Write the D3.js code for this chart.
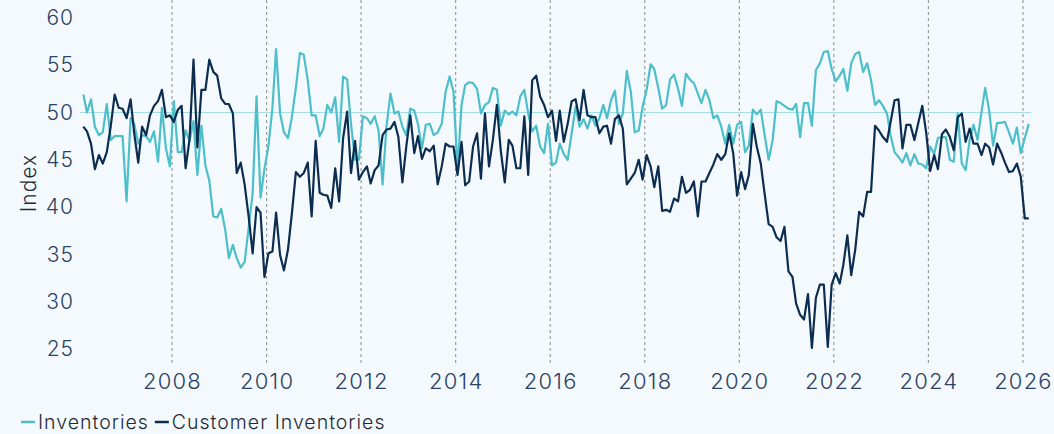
<!DOCTYPE html>
<html>
<head>
<meta charset="utf-8">
<script src="https://cdn.jsdelivr.net/npm/d3@7"></script>
<style>
    html, body { margin: 0; padding: 0; background: #f4f9fd; }
    svg { display: block; font-family: Inter, "Open Sans", sans-serif; font-weight: 300; }
</style>
</head>
<body>
<svg id="chart" width="1054" height="434"></svg>
<script>
// monthly readings, Feb 2006 .. Feb 2026
const firstMonth = new Date(2006, 1, 15);

const inventories = [
    51.9, 50.0, 51.4, 48.5, 47.6, 47.9, 50.9, 47.1, 47.5, 47.5, 47.5, 40.6,
    49.4, 48.8, 46.7, 47.6, 47.5, 46.9, 48.0, 44.8, 50.5, 46.2, 44.3, 51.2,
    45.8, 45.8, 48.1, 47.0, 49.1, 43.4, 48.6, 44.4, 42.8, 39.0, 38.9, 39.8,
    37.6, 34.6, 36.0, 34.6, 33.6, 34.2, 37.8, 41.5, 51.7, 41.0, 44.0, 46.5,
    50.5, 56.7, 49.9, 47.9, 47.3, 49.5, 52.6, 56.3, 56.1, 53.4, 49.7, 49.7,
    47.5, 48.3, 50.8, 50.0, 51.6, 46.9, 53.8, 53.5, 48.8, 45.0, 45.0, 49.6,
    49.4, 48.8, 49.6, 48.1, 42.4, 48.5, 52.0, 49.9, 50.1, 48.5, 47.6, 50.4,
    50.2, 48.8, 46.2, 48.7, 48.8, 47.6, 47.9, 48.8, 52.2, 53.8, 52.2, 43.9,
    50.8, 52.9, 53.2, 53.1, 52.5, 49.9, 50.8, 51.1, 52.6, 52.4, 48.6, 50.2,
    49.8, 50.1, 49.7, 51.7, 52.4, 49.9, 48.0, 48.6, 46.4, 45.7, 48.8, 44.4,
    44.7, 46.7, 45.6, 45.0, 47.8, 50.6, 48.5, 49.3, 48.3, 49.7, 48.6, 49.4,
    50.8, 49.4, 51.3, 52.3, 48.8, 49.9, 54.4, 52.2, 47.9, 48.1, 50.6, 52.4,
    55.1, 54.6, 52.6, 50.4, 50.8, 53.5, 54.0, 52.5, 50.7, 54.1, 53.5, 53.1,
    52.0, 51.0, 52.4, 51.3, 49.4, 49.7, 48.5, 46.7, 48.7, 46.7, 48.7, 49.0,
    45.8, 46.5, 50.3, 49.8, 50.3, 47.6, 45.0, 47.1, 51.2, 51.0, 50.7, 50.4,
    50.3, 50.9, 47.4, 51.0, 51.0, 48.6, 54.5, 55.2, 56.4, 56.5, 54.6, 53.3,
    53.9, 54.6, 52.3, 55.2, 56.2, 56.4, 54.3, 55.2, 53.4, 50.8, 51.3, 50.7,
    49.9, 47.6, 45.8, 45.3, 44.7, 45.7, 44.4, 45.6, 44.6, 44.5, 44.1, 46.4,
    45.6, 47.3, 47.4, 47.4, 45.0, 44.8, 49.9, 44.6, 43.9, 47.1, 48.7, 47.1,
    50.1, 52.6, 50.2, 46.5, 48.9, 48.9, 49.0, 47.9, 46.7, 48.4, 45.7, 47.3,
    48.8
];

const customerInventories = [
    48.5, 48.0, 46.7, 44.0, 45.5, 44.6, 45.8, 48.6, 51.9, 50.5, 50.4, 49.4,
    51.4, 47.8, 44.7, 48.5, 47.6, 49.7, 50.7, 51.2, 52.4, 49.5, 49.7, 49.0,
    50.3, 50.7, 44.1, 47.1, 55.6, 46.3, 52.4, 52.4, 55.6, 54.3, 53.9, 51.5,
    50.9, 50.9, 49.9, 43.6, 44.7, 42.4, 39.0, 35.1, 40.0, 39.4, 32.6, 35.1,
    35.3, 39.4, 34.9, 33.3, 35.5, 39.3, 43.7, 43.2, 43.6, 44.7, 39.0, 47.0,
    41.5, 41.3, 41.2, 39.9, 44.1, 40.6, 47.3, 50.1, 43.6, 47.0, 42.9, 43.7,
    44.3, 42.5, 43.9, 44.4, 47.6, 48.2, 48.3, 49.0, 47.4, 42.6, 46.4, 49.7,
    45.7, 47.5, 45.1, 46.2, 45.9, 46.5, 42.4, 44.3, 46.7, 46.4, 46.4, 43.4,
    46.9, 42.3, 42.7, 46.4, 47.8, 43.0, 49.9, 44.3, 47.1, 50.8, 46.0, 42.6,
    47.1, 46.5, 44.1, 44.1, 49.6, 43.4, 53.4, 53.9, 51.7, 50.8, 49.5, 50.2,
    47.0, 50.2, 46.9, 48.8, 51.2, 51.4, 49.2, 52.4, 49.7, 49.5, 49.5, 47.8,
    48.5, 48.6, 46.7, 49.3, 49.7, 48.3, 42.4, 43.0, 43.6, 45.0, 42.9, 45.5,
    44.3, 42.1, 44.3, 39.6, 39.7, 39.5, 40.9, 40.6, 43.2, 41.5, 41.8, 42.7,
    39.0, 42.7, 42.7, 43.6, 44.5, 45.6, 45.0, 45.6, 47.8, 45.7, 41.2, 43.7,
    41.9, 43.4, 48.8, 46.4, 44.6, 41.4, 38.2, 37.9, 36.8, 36.4, 37.9, 33.2,
    32.6, 29.8, 28.6, 28.1, 30.8, 25.1, 30.4, 31.8, 31.8, 25.2, 31.8, 33.0,
    31.9, 33.9, 37.0, 32.8, 35.5, 39.5, 39.0, 41.6, 41.6, 48.6, 48.1, 47.4,
    46.9, 49.0, 51.3, 51.4, 46.2, 48.7, 48.7, 47.1, 48.9, 50.7, 47.9, 43.8,
    45.5, 44.0, 47.7, 48.2, 47.4, 46.0, 49.5, 49.9, 46.9, 48.3, 46.7, 46.7,
    45.5, 46.7, 46.3, 44.5, 46.7, 45.8, 44.7, 43.7, 43.8, 44.6, 43.2, 38.8,
    38.8
];

const yearTicks = [2008, 2010, 2012, 2014, 2016, 2018, 2020, 2022, 2024, 2026];
const valueTicks = [25, 30, 35, 40, 45, 50, 55, 60];
const referenceLevel = 50;

const series = [
    { name: 'Inventories', values: inventories, color: '#4dbfca' },
    { name: 'Customer Inventories', values: customerInventories, color: '#0c2d4f' }
];

const tickColor = '#2b4266';
const legendColor = '#1f2a36';
const svg = d3.select('#chart');

const x = d3.scaleTime()
    .domain([new Date(2006, 0, 20), new Date(2026, 2, 4)])
    .range([80, 1031]);
const y = d3.scaleLinear()
    .domain([23.5, 61.9])
    .range([363, 0]);

const dateOf = i => d3.timeMonth.offset(firstMonth, i);

// dashed year gridlines
svg.append('g').selectAll('line').data(yearTicks).join('line')
    .attr('x1', d => x(new Date(d, 0, 1)))
    .attr('x2', d => x(new Date(d, 0, 1)))
    .attr('y1', y.range()[1])
    .attr('y2', y.range()[0])
    .attr('stroke', '#8c8c8c')
    .attr('stroke-width', 1)
    .attr('stroke-dasharray', '3,3');

// 50 reference line
svg.append('line')
    .attr('x1', x.range()[0]).attr('x2', x.range()[1])
    .attr('y1', y(referenceLevel)).attr('y2', y(referenceLevel))
    .attr('stroke', '#a6dce5').attr('stroke-width', 1);

// axes
const yAxis = svg.append('g')
    .attr('transform', 'translate(74, 0)')
    .call(d3.axisLeft(y).tickValues(valueTicks).tickSize(0).tickPadding(0));
yAxis.select('.domain').remove();
yAxis.selectAll('text')
    .attr('font-size', 21).attr('font-family', 'Inter, sans-serif')
    .attr('font-weight', 300).attr('letter-spacing', 1).attr('fill', tickColor);

const xAxis = svg.append('g')
    .attr('transform', `translate(0, ${y.range()[0]})`)
    .call(d3.axisBottom(x).tickValues(yearTicks.map(d => new Date(d, 0, 1)))
        .tickFormat(d3.timeFormat('%Y')).tickSize(0).tickPadding(10));
xAxis.select('.domain').remove();
xAxis.selectAll('text')
    .attr('font-size', 22).attr('font-family', 'Inter, sans-serif')
    .attr('font-weight', 300).attr('letter-spacing', 1.2).attr('fill', tickColor);

svg.append('text')
    .attr('transform', `translate(36, ${183}) rotate(-90)`)
    .attr('text-anchor', 'middle')
    .attr('font-size', 21)
    .attr('letter-spacing', 1)
    .attr('fill', legendColor)
    .text('Index');

// series lines
const line = d3.line()
    .x((d, i) => x(dateOf(i)))
    .y(d => y(d));

svg.append('g').selectAll('path').data(series).join('path')
    .attr('d', d => line(d.values))
    .attr('fill', 'none')
    .attr('stroke', d => d.color)
    .attr('stroke-width', 2.2)
    .attr('stroke-linejoin', 'round');

// legend
const legend = svg.append('g').attr('transform', 'translate(21, 422)');
let offset = 0;
series.forEach(s => {
    const item = legend.append('g').attr('transform', `translate(${offset}, 0)`);
    item.append('line').attr('x1', 0).attr('x2', 14)
        .attr('stroke', s.color).attr('stroke-width', 2.5);
    const label = item.append('text')
        .attr('x', 17).attr('dy', '0.35em')
        .attr('font-size', 19.5).attr('letter-spacing', 1)
        .attr('fill', legendColor)
        .text(s.name);
    offset += 17 + label.node().getComputedTextLength() + 6;
});
</script>
</body>
</html>
